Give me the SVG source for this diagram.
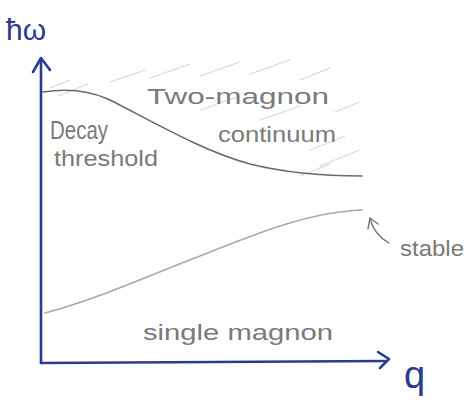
<svg xmlns="http://www.w3.org/2000/svg" width="469" height="400" viewBox="0 0 469 400">
<style>
.axis{stroke:#2a3a92;stroke-width:2.6;fill:none;stroke-linecap:round;stroke-linejoin:round}
.ax-lbl{font-family:"Liberation Sans","DejaVu Sans",sans-serif;fill:#2a3a92}
.curve{fill:none;stroke-linecap:round}
.hatch{stroke:#d8d8d8;stroke-width:1.2;stroke-linecap:round}
.lbl{font-family:"Liberation Sans","DejaVu Sans",sans-serif;fill:#7a7a7a;font-size:22px}
</style>
<rect width="469" height="400" fill="#ffffff"/>
<g id="hatching">
<path class="hatch" d="M50,88 L70,80 M58,96 L88,84 M110,82 L145,70 M150,78 L190,64 M200,76 L240,62 M250,74 L290,60 M300,80 L330,68 M200,110 L240,96 M260,120 L300,106 M310,150 L345,136 M320,166 L360,150 M300,176 L330,164 M335,112 L360,102"/>
</g>
<g id="axes">
<path class="axis" d="M41,363 L41,60"/>
<path class="axis" d="M33,72 L41,58 L50,70"/>
<path class="axis" d="M41,363 L385,361"/>
<path class="axis" d="M378,352 L389,359 L380,368"/>
<text class="ax-lbl" x="6" y="40" font-size="30">ħω</text>
<text class="ax-lbl" x="404" y="388" font-size="38">q</text>
</g>
<g id="two-magnon-edge">
<path class="curve" stroke="#6a6a6a" stroke-width="1.6" d="M43,92 C62,89 85,89 108,99 C150,120 200,150 250,164 C290,174 330,176 362,176"/>
</g>
<g id="single-magnon-curve">
<path class="curve" stroke="#a8a8a8" stroke-width="1.6" d="M45,313 C100,298 150,275 200,256 C260,232 310,212 362,210"/>
</g>
<g id="stable-arrow">
<path class="curve" stroke="#777" stroke-width="1.4" d="M389,243 C380,238 373,230 370,219"/>
<path class="curve" stroke="#777" stroke-width="1.4" d="M368,229 L370,218 L378,224"/>
</g>
<g id="labels">
<text class="lbl" x="147" y="104" textLength="182" lengthAdjust="spacingAndGlyphs">Two-magnon</text>
<text class="lbl" x="218" y="142" textLength="118" lengthAdjust="spacingAndGlyphs">continuum</text>
<text class="lbl" x="50" y="139" style="font-size:25px" textLength="58" lengthAdjust="spacingAndGlyphs">Decay</text>
<text class="lbl" x="54" y="166" textLength="104" lengthAdjust="spacingAndGlyphs">threshold</text>
<text class="lbl" x="400" y="256" textLength="64" lengthAdjust="spacingAndGlyphs">stable</text>
<text class="lbl" x="143" y="340" textLength="190" lengthAdjust="spacingAndGlyphs">single magnon</text>
</g>
</svg>
